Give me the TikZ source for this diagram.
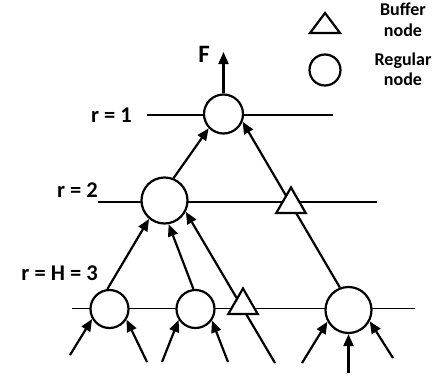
\documentclass[tikz,border=0pt]{standalone}
\usepackage{fontspec}
\setmainfont{Carlito}
\usetikzlibrary{arrows.meta,shapes.geometric,backgrounds}
\begin{document}
\begin{tikzpicture}[x=1pt,y=-1pt,
  reg/.style={circle,draw,fill=white,line width=2.2pt,inner sep=0pt,minimum size=#1},
  buf/.style={regular polygon,regular polygon sides=3,draw,fill=white,line width=2.2pt,inner sep=0pt,minimum size=#1},
  level/.style={line width=1.2pt},
  flow/.style={line width=2.2pt,-{Triangle[length=12pt,width=10pt]}},
  plain/.style={line width=2.2pt},
  lab/.style={font=\fontsize{22.5}{26}\selectfont\bfseries,inner sep=0pt,anchor=base east},
  leg/.style={font=\fontsize{18}{20}\selectfont\bfseries,inner sep=0pt,anchor=base},
]
\useasboundingbox (0,0) rectangle (434,378);

% regular nodes
\node[reg=39pt] (top) at (223.5,114) {};
\node[reg=46pt] (m) at (164.5,200.5) {};
\node[reg=38pt] (c1) at (109.5,309) {};
\node[reg=38pt] (c2) at (195.5,309) {};
\node[reg=46pt] (c3) at (348.5,310) {};
% buffer nodes
\node[buf=34pt] (b2) at (291,204.5) {};
\node[buf=34pt] (b3) at (243,305.5) {};

% level labels
\node[lab] (l1) at (132,122) {r = 1};
\node[lab] (l2) at (98,197) {r = 2};
\node[lab] (l3) at (98,280) {r = H = 3};
\node[font=\fontsize{25}{30}\selectfont\bfseries,inner sep=0pt,anchor=base] (F) at (204,62.5) {F};

% legend
\draw[plain] (310,33) -- (325,13) -- (340,33) -- cycle;
\node[reg=31pt] (legc) at (325,70) {};
\node[leg] (lb1) at (403,15) {Buffer};
\node[leg] (lb2) at (403,36) {node};
\node[leg] (lr1) at (403,65) {Regular};
\node[leg] (lr2) at (403,85) {node};

% free ends
\coordinate (fout) at (223.5,52);
\coordinate (s1) at (70,355);
\coordinate (s2) at (147,362);
\coordinate (s3) at (162,362);
\coordinate (s4) at (228,362);
\coordinate (s5) at (275,363);
\coordinate (s6) at (302,363);
\coordinate (s7) at (348.5,373);
\coordinate (s8) at (393,358);
\coordinate (h1a) at (147,115);
\coordinate (h1b) at (333,115);
\coordinate (h2a) at (98,202);
\coordinate (h2b) at (377,202);
\coordinate (h3a) at (72,308.5);
\coordinate (h3b) at (415,308.5);

\begin{pgfonlayer}{background}
\draw[level] (h1a) -- (h1b);
\draw[level] (h2a) -- (h2b);
\draw[level] (h3a) -- (h3b);
\draw[flow] (top.90) -- (fout);
\draw[flow] (m.68) -- (top.224);
\draw[flow] (c3.111) -- (top.-22);
\draw[flow] (c1.96) -- (m.230);
\draw[flow] (c2.96) -- (m.-80);
\draw[flow] (s5) -- (m.-28);
\draw[flow] (s1) -- (c1.210);
\draw[flow] (s2) -- (c1.-32);
\draw[flow] (s3) -- (c2.213);
\draw[flow] (s4) -- (c2.-35);
\draw[flow] (s6) -- (c3.209);
\draw[flow] (s7) -- (c3.-90);
\draw[flow] (s8) -- (c3.-28);
\end{pgfonlayer}
\end{tikzpicture}
\end{document}
